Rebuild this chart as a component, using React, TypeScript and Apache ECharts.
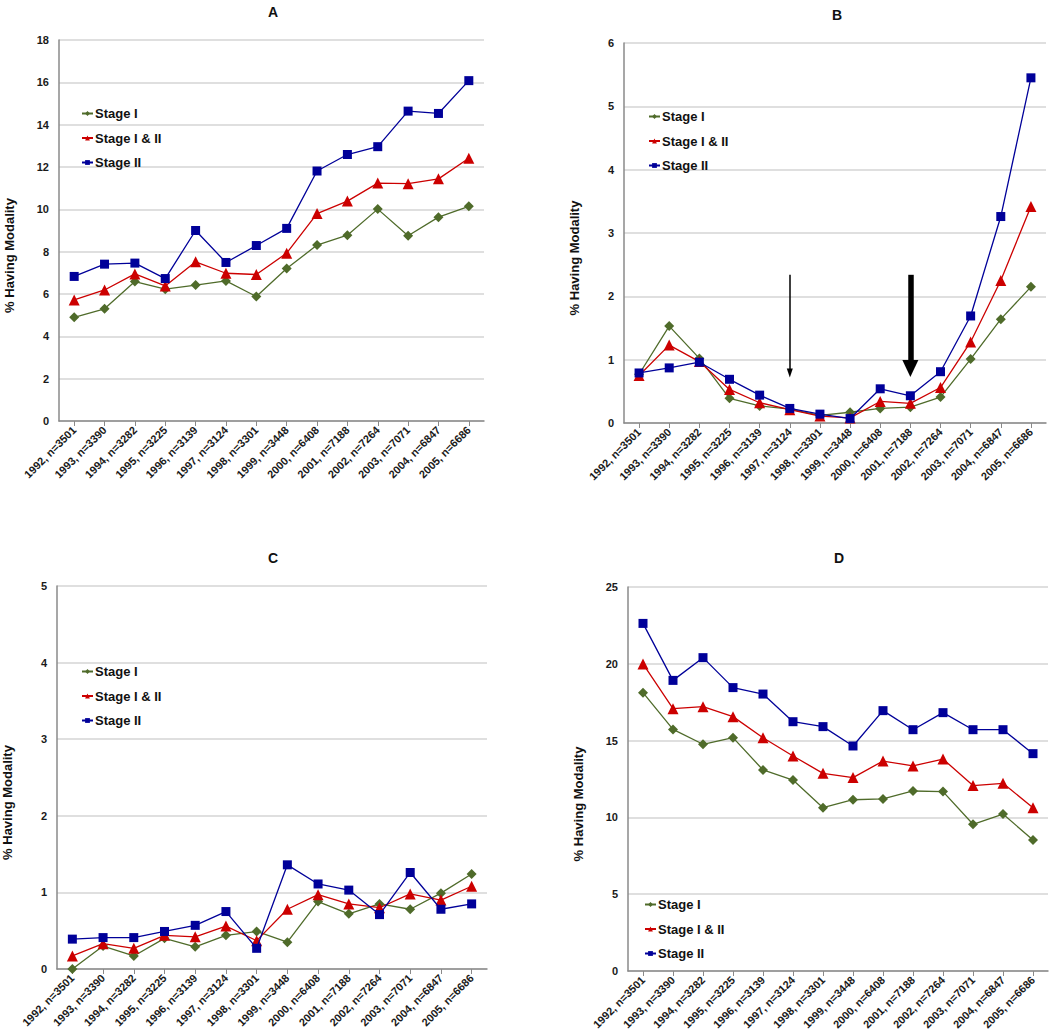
import React, { useEffect, useRef } from "react";
import * as echarts from "echarts";

const categories = [
  "1992, n=3501", "1993, n=3390", "1994, n=3282", "1995, n=3225", "1996, n=3139",
  "1997, n=3124", "1998, n=3301", "1999, n=3448", "2000, n=6408", "2001, n=7188",
  "2002, n=7264", "2003, n=7071", "2004, n=6847", "2005, n=6686",
];
const seriesNames = ["Stage I", "Stage I & II", "Stage II"];
const panelTitles = ["A", "B", "C", "D"];
const yAxisTitle = "% Having Modality";

const aStageI = [4.9, 5.3, 6.59, 6.23, 6.42, 6.62, 5.88, 7.2, 8.31, 8.78, 10.01, 8.75, 9.63, 10.14];
const aStageIandII = [5.72, 6.19, 6.95, 6.38, 7.52, 6.98, 6.92, 7.93, 9.8, 10.39, 11.24, 11.21, 11.44, 12.41];
const aStageII = [6.83, 7.41, 7.46, 6.73, 9.0, 7.49, 8.29, 9.1, 11.81, 12.59, 12.96, 14.64, 14.53, 16.08];

const bStageI = [0.77, 1.53, 1.02, 0.39, 0.27, 0.22, 0.12, 0.17, 0.23, 0.25, 0.41, 1.01, 1.64, 2.15];
const bStageIandII = [0.75, 1.23, 0.97, 0.53, 0.32, 0.21, 0.11, 0.08, 0.34, 0.31, 0.56, 1.28, 2.25, 3.42];
const bStageII = [0.79, 0.87, 0.96, 0.69, 0.44, 0.23, 0.14, 0.07, 0.54, 0.43, 0.81, 1.69, 3.26, 5.45];

const cStageI = [0.0, 0.3, 0.17, 0.4, 0.29, 0.44, 0.49, 0.35, 0.88, 0.72, 0.85, 0.78, 0.99, 1.24];
const cStageIandII = [0.17, 0.33, 0.27, 0.44, 0.42, 0.56, 0.37, 0.78, 0.97, 0.85, 0.8, 0.98, 0.9, 1.08];
const cStageII = [0.39, 0.41, 0.41, 0.49, 0.57, 0.75, 0.27, 1.36, 1.11, 1.03, 0.71, 1.26, 0.78, 0.85];

const dStageI = [18.12, 15.73, 14.76, 15.19, 13.09, 12.43, 10.63, 11.15, 11.2, 11.72, 11.68, 9.55, 10.22, 8.53];
const dStageIandII = [19.99, 17.08, 17.21, 16.56, 15.19, 14.0, 12.87, 12.59, 13.67, 13.35, 13.8, 12.07, 12.22, 10.63];
const dStageII = [22.63, 18.92, 20.4, 18.45, 18.03, 16.23, 15.91, 14.65, 16.95, 15.71, 16.82, 15.71, 15.71, 14.15];

// y-axis ranges per panel: [min, max, interval]
const yRanges = [
  [0, 18, 2],
  [0, 6, 1],
  [0, 5, 1],
  [0, 25, 5],
];

// arrows in panel B: category, top value, end value
const arrowThinCategory = "1997, n=3124";
const arrowThickCategory = "2001, n=7188";
const arrowTopValue = 2.34;
const arrowThinEndValue = 0.79;
const arrowThickEndValue = 0.86;

const FONT = "'Liberation Sans', Arial, Helvetica, sans-serif";
const GREEN = "#4F6B2A";
const RED = "#CC0000";
const BLUE = "#000099";

const grids = [
  { left: 59, top: 40, width: 425, height: 381 },
  { left: 624, top: 43, width: 422, height: 380 },
  { left: 57, top: 586, width: 430, height: 383 },
  { left: 628, top: 587, width: 420, height: 384 },
];
const titlePos = [
  { left: 268, top: 0 },
  { left: 832, top: 3 },
  { left: 268, top: 546 },
  { left: 834, top: 546 },
];
const legendPos = [
  { left: 76, top: 102 },
  { left: 643, top: 105 },
  { left: 76, top: 660 },
  { left: 639, top: 893 },
];

export default function App() {
  const ref = useRef<HTMLDivElement>(null);
  useEffect(() => {
    if (!ref.current) return;
    const chart = echarts.init(ref.current, null, { renderer: "svg" });
    const panelData = [
      [aStageI, aStageIandII, aStageII],
      [bStageI, bStageIandII, bStageII],
      [cStageI, cStageIandII, cStageII],
      [dStageI, dStageIandII, dStageII],
    ];
    const colors = [GREEN, RED, BLUE];
    const symbols = ["diamond", "triangle", "rect"];
    const symbolSizes = [10, 11, 9];

    const series: any[] = [];
    panelData.forEach((sets, p) => {
      sets.forEach((vals, s) => {
        const item: any = {
          type: "line",
          name: seriesNames[s],
          xAxisIndex: p,
          yAxisIndex: p,
          data: vals,
          symbol: symbols[s],
          symbolSize: symbolSizes[s],
          showAllSymbol: true,
          clip: false,
          color: colors[s],
          lineStyle: { color: colors[s], width: 1.3 },
          itemStyle: { color: colors[s] },
          z: 2 + s,
        };
        if (p === 1 && s === 0) {
          item.markLine = {
            silent: true,
            symbol: ["none", "triangle"],
            symbolSize: [6, 9],
            label: { show: false },
            lineStyle: { color: "#000", width: 1.5, type: "solid" },
            data: [[
              { coord: [arrowThinCategory, arrowTopValue] },
              { coord: [arrowThinCategory, arrowThinEndValue] },
            ]],
          };
        }
        if (p === 1 && s === 1) {
          item.markLine = {
            silent: true,
            symbol: ["none", "triangle"],
            symbolSize: [16, 17],
            label: { show: false },
            lineStyle: { color: "#000", width: 5.5, type: "solid" },
            data: [[
              { coord: [arrowThickCategory, arrowTopValue] },
              { coord: [arrowThickCategory, arrowThickEndValue] },
            ]],
          };
        }
        series.push(item);
      });
    });

    const option: any = {
      animation: false,
      backgroundColor: "#ffffff",
      title: panelTitles.map((t, i) => ({
        text: t,
        left: titlePos[i].left,
        top: titlePos[i].top,
        textAlign: "center",
        textStyle: { fontFamily: FONT, fontSize: 14, fontWeight: "bold", color: "#111" },
      })),
      legend: legendPos.map((pos) => ({
        data: seriesNames,
        orient: "vertical",
        left: pos.left,
        top: pos.top,
        itemWidth: 11,
        itemHeight: 6,
        itemGap: 11.5,
        selectedMode: false,
        textStyle: { fontFamily: FONT, fontSize: 13, fontWeight: "bold", color: "#111", padding: [0, 0, 0, -3] },
      })),
      grid: grids.map((g) => ({ ...g, containLabel: false })),
      xAxis: grids.map((_, i) => ({
        type: "category",
        gridIndex: i,
        data: categories,
        boundaryGap: true,
        axisLine: { show: true, lineStyle: { color: "#8a8a8a", width: 1.5 } },
        axisTick: { show: true, alignWithLabel: true, length: 5, lineStyle: { color: "#8a8a8a", width: 1 } },
        axisLabel: {
          interval: 0,
          rotate: 45,
          margin: 7,
          fontFamily: FONT,
          fontSize: 11,
          fontWeight: "bold",
          color: "#1a1a1a",
        },
        splitLine: { show: false },
      })),
      yAxis: grids.map((_, i) => ({
        type: "value",
        gridIndex: i,
        min: yRanges[i][0],
        max: yRanges[i][1],
        interval: yRanges[i][2],
        name: yAxisTitle,
        nameLocation: "middle",
        nameGap: 43,
        nameRotate: 90,
        nameTextStyle: {
          fontFamily: FONT,
          fontSize: 13,
          fontWeight: "bold",
          color: "#111",
          padding: [0, 50, 0, 0],
        },
        axisLine: { show: true, lineStyle: { color: "#8a8a8a", width: 1.5 } },
        axisTick: { show: false },
        axisLabel: { margin: 10, fontFamily: FONT, fontSize: 11, fontWeight: "bold", color: "#1a1a1a" },
        splitLine: { show: true, lineStyle: { color: "#d4d4d4", width: 1.5 } },
      })),
      series,
    };
    chart.setOption(option);
    return () => chart.dispose();
  }, []);
  return (
    <div
      ref={ref}
      style={{ position: "absolute", left: 0, top: 0, width: 1050, height: 1033, background: "#fff" }}
    />
  );
}
